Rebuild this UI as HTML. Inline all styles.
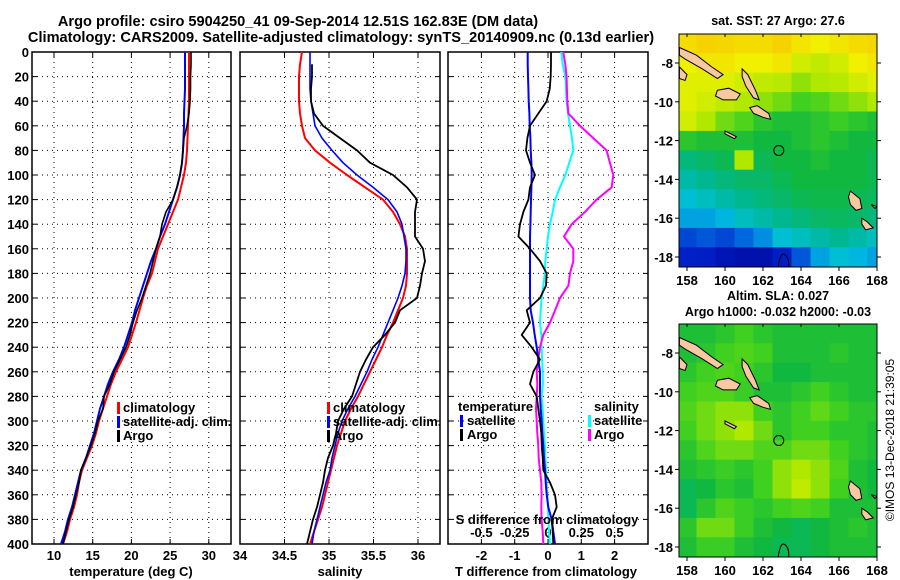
<!DOCTYPE html>
<html><head><meta charset="utf-8"><style>
body{margin:0;background:#fff}
svg{display:block;font-family:"Liberation Sans",Arial,sans-serif;font-weight:bold}
</style></head><body>
<svg id="s" width="900" height="580" viewBox="0 0 900 580">
<text x="298" y="26" font-size="14.6" text-anchor="middle">Argo profile: csiro 5904250_41 09-Sep-2014 12.51S 162.83E (DM data)</text>
<text x="341" y="42" font-size="14.6" text-anchor="middle">Climatology: CARS2009. Satellite-adjusted climatology: synTS_20140909.nc (0.13d earlier)</text>
<g id="g"></g>
</svg>
<script>
const depths=[0,10,20,30,40,50,60,70,80,90,100,110,120,130,140,150,160,170,180,190,200,210,220,230,240,250,260,270,280,290,300,310,320,330,340,350,360,370,380,390,400];
const tempClim=[27.44,27.44,27.44,27.44,27.44,27.38,27.31,27.25,27.18,27.05,26.80,26.41,26.02,25.37,24.73,24.08,23.44,23.05,22.66,22.02,21.50,21.05,20.59,20.08,19.56,18.79,18.01,17.36,16.85,16.33,15.81,15.43,14.91,14.26,13.62,13.23,12.97,12.58,12.07,11.68,11.16];
const tempSat=[26.93,26.93,26.93,26.93,26.86,26.80,26.80,26.73,26.67,26.54,26.28,25.89,25.37,24.86,24.34,23.70,23.18,22.53,22.02,21.50,20.98,20.47,20.08,19.56,19.04,18.40,17.62,16.98,16.46,15.94,15.56,15.17,14.65,14.13,13.49,13.10,12.71,12.33,11.81,11.42,10.90];
const tempArgo=[27.70,27.70,27.64,27.64,27.57,27.44,27.18,26.80,26.67,26.54,26.28,25.89,25.37,24.47,23.95,23.70,23.18,22.79,22.40,21.89,21.37,20.72,20.21,19.82,19.30,18.53,17.75,17.24,16.46,16.33,15.68,15.30,14.78,14.13,13.49,13.23,12.84,12.45,11.94,11.55,11.16];
const salClim=[34.697,34.674,34.663,34.663,34.663,34.674,34.697,34.730,34.843,35.011,35.202,35.404,35.607,35.719,35.798,35.854,35.876,35.876,35.876,35.865,35.831,35.775,35.719,35.652,35.596,35.528,35.461,35.393,35.326,35.247,35.180,35.135,35.090,35.056,35.022,34.989,34.955,34.921,34.876,34.831,34.787];
const salSat=[34.787,34.787,34.787,34.787,34.798,34.820,34.843,34.921,35.034,35.157,35.315,35.494,35.663,35.764,35.820,35.843,35.865,35.865,35.854,35.820,35.775,35.719,35.663,35.607,35.551,35.483,35.427,35.360,35.292,35.213,35.146,35.101,35.067,35.034,35.011,34.966,34.933,34.899,34.865,34.831,34.809];
const salArgo=[null,34.809,34.809,34.798,34.798,34.831,34.933,35.124,35.315,35.461,35.719,35.876,35.989,35.966,35.966,35.966,36.056,36.079,36.045,36.022,35.989,35.798,35.742,35.629,35.494,35.416,35.348,35.303,35.258,35.169,35.101,35.079,35.045,34.989,34.955,34.933,34.899,34.865,34.820,34.787,34.753];
const dTsat=[-0.61,-0.61,-0.60,-0.59,-0.58,-0.56,-0.55,-0.53,-0.52,-0.50,-0.49,-0.50,-0.51,-0.52,-0.53,-0.54,-0.54,-0.54,-0.54,-0.54,-0.54,-0.52,-0.45,-0.40,-0.34,-0.29,-0.24,-0.24,-0.24,-0.22,-0.19,-0.17,-0.14,-0.12,-0.09,-0.07,-0.04,0.01,0.11,0.16,0.21];
const dTargo=[0.09,0.09,0.08,0.05,-0.04,-0.29,-0.54,-0.62,-0.66,-0.54,-0.39,-0.54,-0.59,-0.74,-0.84,-0.89,-0.54,-0.24,-0.04,-0.06,-0.24,-0.64,-0.54,-0.79,-0.49,-0.24,-0.44,-0.54,-0.34,-0.29,-0.24,-0.20,-0.19,-0.16,-0.14,0.06,0.21,0.26,0.11,0.14,0.16];
const dSsat=[0.10,0.11,0.13,0.135,0.14,0.15,0.165,0.18,0.19,0.16,0.13,0.09,0.053,0.035,0.015,0.0,-0.01,-0.02,-0.023,-0.035,-0.048,-0.055,-0.06,-0.05,-0.048,-0.044,-0.04,-0.038,-0.048,-0.04,-0.035,-0.03,-0.023,-0.02,-0.015,-0.01,-0.005,0.0,0.003,0.008,0.015];
const dSargo=[0.115,0.13,0.14,0.142,0.145,0.153,0.24,0.34,0.44,0.465,0.49,0.478,0.365,0.278,0.178,0.12,0.19,0.19,0.165,0.153,0.09,0.053,0.015,-0.035,-0.06,-0.073,-0.085,-0.08,-0.085,-0.09,-0.085,-0.08,-0.073,-0.07,-0.06,-0.05,-0.048,-0.05,-0.048,-0.04,-0.035];
const depthTicks=[0,20,40,60,80,100,120,140,160,180,200,220,240,260,280,300,320,340,360,380,400];
const tempTicks=[10,15,20,25,30];
const salTicks=[34,34.5,35,35.5,36];
const salTickLabels=["34","34.5","35","35.5","36"];
const dTTicks=[-2,-1,0,1,2];
const dSTicks=[-0.5,-0.25,0,0.25,0.5];
const dSTickLabels=["-0.5","-0.25","0","0.25","0.5"];
const lonTicks=[158,160,162,164,166,168];
const latTicks=[-8,-10,-12,-14,-16,-18];
const sstGrid=[
[.74,.76,.75,.74,.74,.76,.72,.70,.72,.74,.75],
[.70,.72,.72,.70,.70,.72,.66,.64,.66,.70,.72],
[.68,.68,.68,.66,.64,.63,.60,.62,.63,.66,.68],
[.68,.66,.64,.62,.60,.58,.55,.56,.58,.60,.62],
[.66,.62,.58,.56,.52,.50,.50,.52,.54,.52,.50],
[.52,.50,.50,.50,.48,.48,.50,.52,.50,.48,.48],
[.42,.44,.46,.62,.46,.48,.48,.50,.48,.48,.46],
[.38,.40,.42,.44,.44,.46,.48,.48,.48,.48,.46],
[.34,.36,.38,.40,.42,.44,.46,.47,.47,.46,.45],
[.30,.30,.32,.36,.38,.40,.42,.44,.45,.44,.42],
[.20,.22,.20,.24,.28,.34,.36,.38,.40,.38,.36],
[.15,.14,.10,.08,.08,.14,.22,.30,.34,.32,.30]];
const slaGrid=[
[.50,.50,.52,.55,.52,.50,.50,.50,.50,.50,.50],
[.50,.52,.55,.56,.55,.50,.50,.50,.52,.50,.50],
[.52,.55,.56,.55,.52,.48,.48,.50,.50,.50,.50],
[.55,.56,.56,.54,.50,.50,.52,.55,.52,.50,.50],
[.56,.58,.60,.60,.55,.52,.55,.57,.55,.52,.52],
[.55,.58,.60,.62,.58,.52,.55,.55,.52,.52,.50],
[.52,.56,.58,.58,.56,.56,.58,.58,.55,.52,.50],
[.50,.52,.54,.52,.55,.60,.62,.60,.56,.50,.48],
[.46,.48,.52,.50,.55,.60,.64,.60,.55,.50,.48],
[.46,.52,.56,.54,.52,.55,.56,.55,.50,.50,.50],
[.52,.58,.58,.54,.50,.48,.46,.48,.50,.52,.50],
[.50,.54,.54,.50,.48,.46,.46,.48,.50,.50,.50]];
const gridLon0=157.5, gridLat0=-6.5;
const islands=[
[[157.6,-7.2],[158.5,-7.6],[159.3,-8.2],[159.9,-8.6],[159.6,-8.8],[158.8,-8.3],[157.9,-7.8],[157.6,-7.6]],
[[159.6,-9.4],[160.2,-9.3],[160.8,-9.6],[160.6,-9.9],[159.9,-9.9],[159.5,-9.7]],
[[160.9,-8.3],[161.2,-8.6],[161.6,-9.4],[161.8,-9.9],[161.5,-9.8],[161.1,-9.2],[160.9,-8.7]],
[[161.3,-10.3],[161.7,-10.2],[162.3,-10.6],[162.4,-10.9],[162.0,-10.8],[161.5,-10.6]],
[[160.0,-11.5],[160.6,-11.8],[160.5,-11.9],[160.0,-11.65]],
[[157.6,-8.2],[158.0,-8.6],[157.9,-8.9],[157.6,-8.8]],
[[166.6,-14.6],[167.1,-15.0],[167.2,-15.5],[166.9,-15.6],[166.6,-15.3],[166.5,-14.9]],
[[167.2,-16.0],[167.5,-16.2],[167.8,-16.5],[167.4,-16.6],[167.2,-16.3]],
[[167.7,-15.3],[168.0,-15.4],[167.9,-15.5]]];
const argoLon=162.83, argoLat=-12.51;

const NS='http://www.w3.org/2000/svg';
const G=document.getElementById('g');
function el(tag,attrs,parent){const e=document.createElementNS(NS,tag);for(const k in attrs)e.setAttribute(k,attrs[k]);(parent||G).appendChild(e);return e;}
const Y0=52,Y1=544;
function yD(d){return Y0+(d/400)*(Y1-Y0);}
function xT(t){return 54+(t-10)*7.74;}
function xS(s){return 240+(s-34)*89;}
function xDT(v){return 548+v*33.3;}
function xDS(v){return 548+v*133.2;}
function panel(x0,x1,ticks,xf,labels,name){
  const g=el('g',{});
  
  
  depthTicks.forEach(d=>{const y=yD(d);
    if(d>0&&d<400){const l=el('line',{x1:x0,x2:x1,y1:y,y2:y,stroke:'#000','stroke-dasharray':'1,4','stroke-width':1},g);}
    el('line',{x1:x0,x2:x0+5,y1:y,y2:y,stroke:'#000'},g);el('line',{x1:x1-5,x2:x1,y1:y,y2:y,stroke:'#000'},g);});
  ticks.forEach((t,i)=>{const x=xf(t);
    const l=el('line',{x1:x,x2:x,y1:Y0,y2:Y1,stroke:'#000','stroke-dasharray':'1,4'},g);
    el('line',{x1:x,x2:x,y1:Y1-5,y2:Y1,stroke:'#000'},g);el('line',{x1:x,x2:x,y1:Y0,y2:Y0+5,stroke:'#000'},g);
    if(labels){const tx=el('text',{x:x,y:560,'font-size':13,'text-anchor':'middle'},g);tx.textContent=labels[i];}});
  const r=el('rect',{x:x0,y:Y0,width:x1-x0,height:Y1-Y0,fill:'none',stroke:'#000','stroke-width':1.5},g);
  
  return g;
}
function series(vals,xf,color,w,name){
  let d='';let pen=false;
  vals.forEach((v,i)=>{if(v===null){pen=false;return;}d+=(pen?'L':'M')+xf(v).toFixed(1)+','+yD(depths[i]).toFixed(1);pen=true;});
  const p=el('path',{d:d,fill:'none',stroke:color,'stroke-width':w,'stroke-linejoin':'round'});
  
  
}
depthTicks.forEach(d=>{const t=el('text',{x:29,y:yD(d)+5,'font-size':13,'text-anchor':'end'});t.textContent=d;
  
  });
panel(32,231,tempTicks,xT,tempTicks.map(String),'temperature-panel');
panel(240,440,salTicks,xS,salTickLabels,'salinity-panel');
panel(448,648,dTTicks,xDT,dTTicks.map(String),'difference-panel');
dSTicks.forEach((s,i)=>{const t=el('text',{x:xDS(s),y:537,'font-size':13,'text-anchor':'middle'});t.textContent=dSTickLabels[i];
  
  });
series(tempClim,xT,'#ff0000',2,'temp-climatology-line');
series(tempSat,xT,'#0000ff',2,'temp-satellite-line');
series(tempArgo,xT,'#000',1.6,'temp-argo-line');
series(salClim,xS,'#ff0000',2,'sal-climatology-line');
series(salSat,xS,'#0000ff',1.6,'sal-satellite-line');
series(salArgo,xS,'#000',1.8,'sal-argo-line');
series(dSsat,xDS,'#00ffff',2,'sdiff-satellite-line');
series(dSargo,xDS,'#ff00ff',2,'sdiff-argo-line');
series(dTsat,xDT,'#0000ff',2,'tdiff-satellite-line');
series(dTargo,xDT,'#000',1.8,'tdiff-argo-line');
function txt(x,y,s,size,name,anchor,extra){const t=el('text',Object.assign({x:x,y:y,'font-size':size,'text-anchor':anchor||'start'},extra||{}));t.textContent=s;
  
  return t;}
function mark(x,y,c){const r=el('rect',{x:x,y:y-10,width:3,height:12,fill:c});
  
  }
[[117,'#ff0000','climatology',412],[117,'#0000ff','satellite-adj. clim.',426],[117,'#000','Argo',440]].forEach(a=>{mark(a[0],a[3],a[1]);txt(a[0]+6,a[3],a[2],13,'temp-legend-entry');});
[[327,'#ff0000','climatology',412],[327,'#0000ff','satellite-adj. clim.',426],[327,'#000','Argo',440]].forEach(a=>{mark(a[0],a[3],a[1]);txt(a[0]+6,a[3],a[2],13,'sal-legend-entry');});
txt(458,411,'temperature',13,'legend-temperature-heading');
mark(460,425,'#0000ff');txt(467,425,'satellite',13,'legend-t-satellite');
mark(460,439,'#000');txt(467,439,'Argo',13,'legend-t-argo');
txt(594,411,'salinity',13,'legend-salinity-heading');
mark(588,425,'#00ffff');txt(594,425,'satellite',13,'legend-s-satellite');
mark(588,439,'#ff00ff');txt(594,439,'Argo',13,'legend-s-argo');
txt(547,524,'S difference from climatology',13,'s-diff-axis-title','middle');
txt(131,576,'temperature (deg C)',13,'temp-axis-title','middle');
txt(340,576,'salinity',13,'sal-axis-title','middle');
txt(546,576,'T difference from climatology',13,'t-diff-axis-title','middle');
const stops=[[0,[0,0,140]],[0.15,[0,32,200]],[0.25,[0,112,224]],[0.33,[0,192,224]],[0.4,[0,184,144]],[0.48,[16,184,64]],[0.55,[64,208,32]],[0.62,[176,232,0]],[0.7,[240,240,0]],[0.78,[248,200,0]],[0.9,[255,96,0]],[1,[255,0,0]]];
function cmap(v){for(let i=1;i<stops.length;i++){if(v<=stops[i][0]){const a=stops[i-1],b=stops[i];const f=(v-a[0])/(b[0]-a[0]);const c=a[1].map((x,k)=>Math.round(x+(b[1][k]-x)*f));return 'rgb('+c.join(',')+')';}}return 'rgb(255,0,0)';}
function drawMap(top,grid,name,title1,title2){
  const L=679,R=877,B=top+233;
  const lx=l=>687+(l-158)*19;
  const ly=la=>top+29+(-8-la)*19.4;
  const g=el('g',{});
  
  
  const cid='clip'+top;
  const cp=el('clipPath',{id:cid},g);el('rect',{x:L,y:top,width:R-L,height:B-top},cp);
  const cg=el('g',{'clip-path':'url(#'+cid+')'},g);
  grid.forEach((row,i)=>row.forEach((v,j)=>{
    const x=lx(gridLon0+j),y=ly(gridLat0-i);
    const r=el('rect',{x:x,y:y,width:19.5,height:20,fill:cmap(v)},cg);
    
    
  }));
  islands.forEach(poly=>{const p=el('polygon',{points:poly.map(q=>lx(q[0]).toFixed(1)+','+ly(q[1]).toFixed(1)).join(' '),fill:'#f8c8a0',stroke:'#000','stroke-width':1},cg);
    
    });
  const ct=el('path',{d:'M'+lx(162.8)+','+(B)+' Q'+lx(162.9)+','+ly(-17.8)+' '+lx(163.1)+','+ly(-17.85)+' Q'+lx(163.4)+','+ly(-18.0)+' '+lx(163.35)+','+B,fill:'none',stroke:'#000'},cg);
  
  
  const c=el('circle',{cx:lx(argoLon),cy:ly(argoLat),r:5,fill:'none',stroke:'#000','stroke-width':1},g);
  
  
  const fr=el('rect',{x:L,y:top,width:R-L,height:B-top,fill:'none',stroke:'#000'},g);
  
  
  lonTicks.forEach(l=>{const x=lx(l);el('line',{x1:x,x2:x,y1:B,y2:B+4,stroke:'#000'},g);el('line',{x1:x,x2:x,y1:top,y2:top+3,stroke:'#000'},g);txt(x,B+18,String(l),13,'lon-tick-label','middle');});
  latTicks.forEach(la=>{const y=ly(la);el('line',{x1:L-4,x2:L,y1:y,y2:y,stroke:'#000'},g);el('line',{x1:R,x2:R+4,y1:y,y2:y,stroke:'#000'},g);txt(L-6,y+5,String(la),13,'lat-tick-label','end');});
  txt(778,top-9-(title2?15:0),title1,12.5,'map-title','middle');
  if(title2)txt(778,top-8,title2,12.5,'map-subtitle','middle');
}
drawMap(34,sstGrid,'sst-map','sat. SST: 27 Argo: 27.6');
drawMap(324,slaGrid,'sla-map','Altim. SLA: 0.027','Argo h1000: -0.032 h2000: -0.03');
txt(0,0,'©IMOS 13-Dec-2018 21:39:05',12,'timestamp-credit','middle',{transform:'translate(894,440) rotate(-90)','font-weight':'normal'});
</script>
</body></html>
